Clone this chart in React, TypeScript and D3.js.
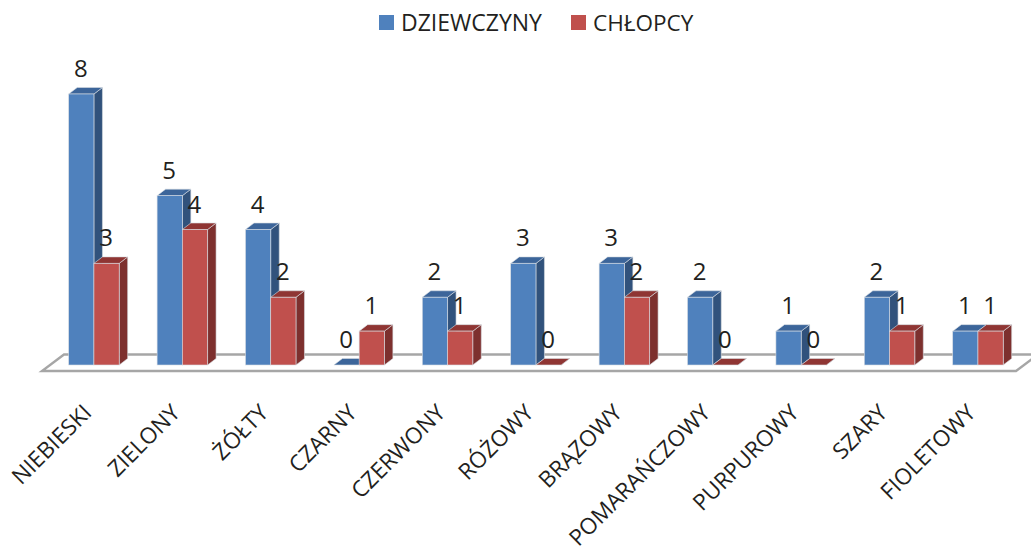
import * as d3 from "d3"

const categories = [
  "NIEBIESKI",
  "ZIELONY",
  "ŻÓŁTY",
  "CZARNY",
  "CZERWONY",
  "RÓŻOWY",
  "BRĄZOWY",
  "POMARAŃCZOWY",
  "PURPUROWY",
  "SZARY",
  "FIOLETOWY"
]
const dziewczyny = [8, 5, 4, 0, 2, 3, 3, 2, 1, 2, 1]
const chlopcy = [3, 4, 2, 1, 1, 0, 2, 0, 0, 1, 1]
const seriesNames = ["DZIEWCZYNY", "CHŁOPCY"]

const fontFamily = "'Open Sans', sans-serif"
const textColor = "#231f20"

const palette = [
  { front: "#4f81bd", top: "#3c659a", side: "#31527c" },
  { front: "#c0504d", top: "#8f3533", side: "#7d302e" }
]

// 3D offset of the columns
const depthX = 8.5
const depthY = 6.5

const x = d3.scaleBand<string>().domain(categories).range([68.7, 1003.2]).paddingInner(0.429).paddingOuter(0)
const y = d3.scaleLinear().domain([0, 8]).range([365, 94])

const Column = ({ category, value, index }: { category: string; value: number; index: number }) => {
  const w = x.bandwidth() / 2
  const x0 = (x(category) || 0) + index * w
  const x1 = x0 + w
  const yTop = y(value)
  const yBase = y(0)
  const c = palette[index]
  const path = d3.path()
  path.moveTo(x0, yTop)
  path.lineTo(x0 + depthX, yTop - depthY)
  path.lineTo(x1 + depthX, yTop - depthY)
  path.lineTo(x1, yTop)
  path.closePath()
  const side = d3.path()
  side.moveTo(x1, yTop)
  side.lineTo(x1 + depthX, yTop - depthY)
  side.lineTo(x1 + depthX, yBase - depthY)
  side.lineTo(x1, yBase)
  side.closePath()
  return (
    <g>
      <path d={side.toString()} fill={c.side} stroke="#d8dde3" strokeWidth={0.6} />
      <path d={path.toString()} fill={c.top} stroke="#d8dde3" strokeWidth={0.6} />
      {value > 0 && (
        <rect x={x0} y={yTop} width={w} height={yBase - yTop} fill={c.front} stroke="#d8dde3" strokeWidth={0.6} />
      )}
    </g>
  )
}

const Floor = () => {
  const left = 42
  const right = 1016
  const front = y(0) + 6
  const back = y(0) - 10.5
  const path = d3.path()
  path.moveTo(left, front)
  path.lineTo(right, front)
  path.lineTo(right + 22, back)
  path.lineTo(left + 22, back)
  path.closePath()
  return <path d={path.toString()} fill="none" stroke="#a6a6a6" strokeWidth={2.4} />
}

const App = () => {
  const w = x.bandwidth() / 2
  return (
    <svg
      width={1031}
      height={550}
      style={{ position: "absolute", left: 0, top: 0, background: "#fff", display: "block" }}
      fontFamily={fontFamily}
    >
      {/* legend */}
      <rect x={379} y={15} width={15} height={15} fill={palette[0].front} />
      <text x={401} y={30.5} fontSize={23} fill={textColor}>{seriesNames[0]}</text>
      <rect x={571} y={15} width={15} height={15} fill={palette[1].front} />
      <text x={593} y={30.5} fontSize={22.5} fill={textColor}>{seriesNames[1]}</text>

      <Floor />

      {categories.map((cat, i) => (
        <g key={cat}>
          <Column category={cat} value={dziewczyny[i]} index={0} />
          <Column category={cat} value={chlopcy[i]} index={1} />
        </g>
      ))}

      {/* value labels */}
      {categories.map((cat, i) =>
        [dziewczyny[i], chlopcy[i]].map((v, s) => (
          <text
            key={cat + s}
            x={(x(cat) || 0) + w * s + w / 2 - 0.5}
            y={y(v) - 17}
            textAnchor="middle"
            fontSize={24}
            fill={textColor}
          >
            {v}
          </text>
        ))
      )}

      {/* category labels */}
      {categories.map(cat => (
        <text
          key={cat}
          transform={`translate(${(x(cat) || 0) + w - 1},414) rotate(-45)`}
          textAnchor="end"
          fontSize={22.5}
          fill={textColor}
        >
          {cat}
        </text>
      ))}
    </svg>
  )
}

export default App
